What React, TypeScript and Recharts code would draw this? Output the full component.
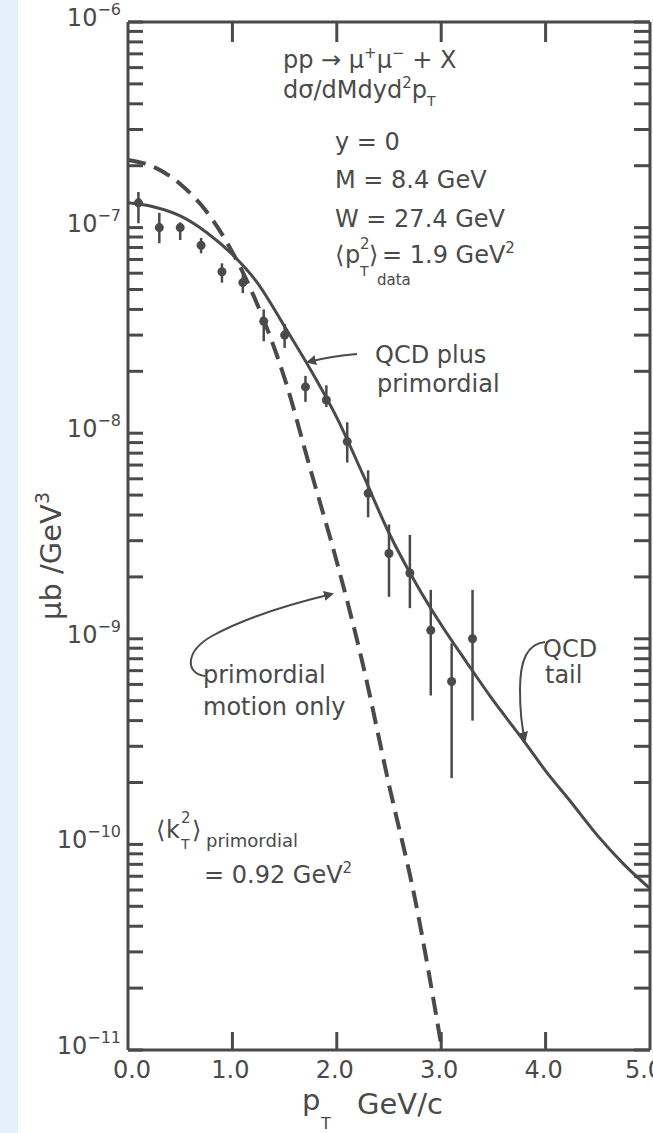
import React from "react";
import { ComposedChart, Line, Scatter, ErrorBar, XAxis, YAxis } from "recharts";

// measured points (pT in GeV/c, cross section in μb/GeV^3)
const dataPt = [0.1, 0.3, 0.5, 0.7, 0.9, 1.1, 1.3, 1.5, 1.7, 1.9, 2.1, 2.3, 2.5, 2.7, 2.9, 3.1, 3.3];
const dataVal = [1.32e-7, 1.0e-7, 1.0e-7, 8.2e-8, 6.1e-8, 5.4e-8, 3.5e-8, 3.0e-8, 1.68e-8, 1.45e-8, 9.1e-9, 5.1e-9, 2.6e-9, 2.09e-9, 1.1e-9, 6.2e-10, 1.0e-9];
const dataLow = [1.05e-7, 8.4e-8, 8.7e-8, 7.5e-8, 5.4e-8, 4.8e-8, 2.8e-8, 2.6e-8, 1.42e-8, 1.34e-8, 7.2e-9, 3.9e-9, 1.6e-9, 1.41e-9, 5.3e-10, 2.1e-10, 4.0e-10];
const dataHigh = [1.49e-7, 1.18e-7, 1.06e-7, 8.9e-8, 6.7e-8, 5.9e-8, 4.0e-8, 3.4e-8, 1.9e-8, 1.71e-8, 1.13e-8, 6.6e-9, 3.6e-9, 3.2e-9, 1.73e-9, 9.5e-10, 1.73e-9];

// QCD plus primordial (solid)
const qcdPt = [0, 0.25, 0.5, 0.75, 1.0, 1.25, 1.5, 1.75, 2.0, 2.25, 2.5, 2.75, 3.0, 3.25, 3.5, 3.75, 4.0, 4.25, 4.5, 4.75, 5.0];
const qcdVal = [1.32e-7, 1.26e-7, 1.14e-7, 9.5e-8, 7.4e-8, 5.3e-8, 3.3e-8, 2.03e-8, 1.19e-8, 6.3e-9, 3.27e-9, 1.89e-9, 1.17e-9, 7.6e-10, 5.0e-10, 3.4e-10, 2.28e-10, 1.59e-10, 1.1e-10, 8.0e-11, 6.1e-11];

// primordial motion only (dashed)
const primPt = [0, 0.25, 0.5, 0.75, 1.0, 1.25, 1.5, 1.75, 2.0, 2.25, 2.5, 2.75, 3.0];
const primVal = [2.13e-7, 1.97e-7, 1.63e-7, 1.2e-7, 7.6e-8, 4.1e-8, 1.85e-8, 6.6e-9, 2.37e-9, 7.5e-10, 1.95e-10, 5.4e-11, 1.06e-11];

const xTicks = [0, 1, 2, 3, 4, 5];
const xTickLabels = ["0.0", "1.0", "2.0", "3.0", "4.0", "5.0"];
const yDecades = [-11, -10, -9, -8, -7, -6];
const yMinor = [2, 3, 4, 5, 6, 7, 8, 9];

const yTicks: number[] = [];
yDecades.forEach((e) => {
  yTicks.push(Math.pow(10, e));
  if (e < -6) yMinor.forEach((m) => yTicks.push(m * Math.pow(10, e)));
});

const points = dataPt.map((x, i) => ({ x, y: dataVal[i], err: [dataVal[i] - dataLow[i], dataHigh[i] - dataVal[i]] }));
const qcdLine = qcdPt.map((x, i) => ({ x, y: qcdVal[i] }));
const primLine = primPt.map((x, i) => ({ x, y: primVal[i] }));

const INK = "#4a4a4a";
const FONT = "'DejaVu Sans', sans-serif";

function BottomTick({ x, y, payload }: any) {
  const v = payload.value;
  // the first and last labels sit a little inward, as in the scan
  const shift = v === 0 ? 4 : v === 5 ? -6 : -2;
  return (
    <g>
      {v > 0 && v < 5 && <line x1={x} y1={y} x2={x} y2={y - 18} stroke={INK} strokeWidth={3} />}
      <text x={x + shift} y={y + 28} textAnchor="middle" fontSize={24} fontFamily={FONT} fill={INK}>
        {xTickLabels[xTicks.indexOf(v)]}
      </text>
    </g>
  );
}

function TopTick({ x, y, payload }: any) {
  const v = payload.value;
  if (v <= 0 || v >= 5) return <g />;
  return <line x1={x} y1={y} x2={x} y2={y + 20} stroke={INK} strokeWidth={3} />;
}

function LeftTick({ x, y, payload }: any) {
  const v = payload.value;
  const e = Math.round(Math.log10(v));
  const major = Math.abs(v / Math.pow(10, e) - 1) < 1e-6;
  return (
    <g>
      <line x1={x} y1={y} x2={x + 15} y2={y} stroke={INK} strokeWidth={3} />
      {major && (
        <text x={x - 7} y={y + 4} textAnchor="end" fontFamily={FONT} fill={INK} fontSize={24}>
          10<tspan fontSize={16} dy={-11}>{"−" + String(-e)}</tspan>
        </text>
      )}
    </g>
  );
}

function RightTick({ x, y }: any) {
  return <line x1={x} y1={y} x2={x - 16} y2={y} stroke={INK} strokeWidth={3} />;
}

function Dot({ cx, cy }: any) {
  return <circle cx={cx} cy={cy} r={4.5} fill={INK} />;
}

export default function App() {
  const t = { fontFamily: FONT, fill: INK } as const;
  return (
    <div style={{ position: "absolute", left: 0, top: 0, width: 653, height: 1133, background: "#fff", overflow: "hidden" }}>
      <div style={{ position: "absolute", left: 0, top: 0, width: 18, height: 1133, background: "#e4f1fc" }} />
      <div style={{ position: "absolute", left: 0, top: 0 }}>
        <ComposedChart width={653} height={1133} margin={{ top: 21, right: 2, bottom: 0, left: 28 }}>
          <XAxis
            xAxisId={0}
            dataKey="x"
            type="number"
            domain={[0, 5]}
            ticks={xTicks}
            interval={0}
            allowDataOverflow
            height={83}
            tickSize={0}
            tickMargin={0}
            tickLine={false}
            axisLine={{ stroke: INK, strokeWidth: 3 }}
            tick={(p: any) => <BottomTick {...p} />}
          />
          <XAxis
            xAxisId="top"
            orientation="top"
            dataKey="x"
            type="number"
            domain={[0, 5]}
            ticks={xTicks}
            interval={0}
            allowDataOverflow
            height={1}
            tickSize={0}
            tickMargin={0}
            tickLine={false}
            axisLine={{ stroke: INK, strokeWidth: 3 }}
            tick={(p: any) => <TopTick {...p} />}
          />
          <YAxis
            yAxisId={0}
            dataKey="y"
            type="number"
            scale="log"
            domain={[1e-11, 1e-6]}
            ticks={yTicks}
            interval={0}
            allowDataOverflow
            width={100}
            tickSize={0}
            tickMargin={0}
            tickLine={false}
            axisLine={{ stroke: INK, strokeWidth: 3 }}
            tick={(p: any) => <LeftTick {...p} />}
          />
          <YAxis
            yAxisId="right"
            orientation="right"
            type="number"
            scale="log"
            domain={[1e-11, 1e-6]}
            ticks={yTicks}
            interval={0}
            allowDataOverflow
            width={1}
            tickSize={0}
            tickMargin={0}
            tickLine={false}
            axisLine={{ stroke: INK, strokeWidth: 3 }}
            tick={(p: any) => <RightTick {...p} />}
          />
          <Line
            data={primLine}
            dataKey="y"
            type="monotone"
            stroke={INK}
            strokeWidth={4}
            strokeDasharray="18 9"
            dot={false}
            isAnimationActive={false}
          />
          <Line
            data={qcdLine}
            dataKey="y"
            type="monotone"
            stroke={INK}
            strokeWidth={3}
            dot={false}
            isAnimationActive={false}
          />
          <Scatter data={points} dataKey="y" shape={(p: any) => <Dot {...p} />} isAnimationActive={false}>
            <ErrorBar dataKey="err" direction="y" width={0} stroke={INK} strokeWidth={2.5} />
          </Scatter>
        </ComposedChart>
      </div>
      <svg width={653} height={1133} style={{ position: "absolute", left: 0, top: 0, pointerEvents: "none" }}>
        <defs>
          <marker id="ah" viewBox="0 0 10 10" refX="8" refY="5" markerWidth="5" markerHeight="5" orient="auto">
            <path d="M0,0 L10,5 L0,10 z" fill={INK} />
          </marker>
        </defs>
        <text x={283} y={68} fontSize={24} {...t}>
          pp → μ<tspan fontSize={15} dy={-10}>+</tspan>
          <tspan dy={10}>μ</tspan>
          <tspan fontSize={15} dy={-10}>−</tspan>
          <tspan dy={10}> + X</tspan>
        </text>
        <text x={283} y={98} fontSize={24} {...t}>
          dσ/dMdyd<tspan fontSize={15} dy={-10}>2</tspan>
          <tspan dy={10}>p</tspan>
          <tspan fontSize={14} dy={8}>T</tspan>
        </text>
        <text x={335} y={150} fontSize={24} {...t}>y = 0</text>
        <text x={335} y={188} fontSize={24} {...t}>M = 8.4 GeV</text>
        <text x={335} y={227} fontSize={24} {...t}>W = 27.4 GeV</text>
        <text x={335} y={263} fontSize={24} {...t}>⟨</text>
        <text x={345} y={263} fontSize={24} {...t}>p</text>
        <text x={360} y={249} fontSize={15} {...t}>2</text>
        <text x={360} y={276} fontSize={14} {...t}>T</text>
        <text x={369} y={263} fontSize={24} {...t}>⟩</text>
        <text x={377} y={285} fontSize={15} {...t}>data</text>
        <text x={382} y={263} fontSize={24} {...t}>
          = 1.9 GeV<tspan fontSize={15} dy={-10}>2</tspan>
        </text>

        <text x={375} y={363} fontSize={24} {...t}>QCD plus</text>
        <text x={377} y={392} fontSize={24} {...t}>primordial</text>
        <path d="M357,354 Q332,356 308,362" fill="none" stroke={INK} strokeWidth={2} markerEnd="url(#ah)" />

        <text x={203} y={683} fontSize={24} {...t}>primordial</text>
        <text x={203} y={715} fontSize={24} {...t}>motion only</text>
        <path d="M205,676 C186,674 184,652 212,636 C245,618 290,604 332,594" fill="none" stroke={INK} strokeWidth={2} markerEnd="url(#ah)" />

        <text x={543} y={657} fontSize={24} {...t}>QCD</text>
        <text x={545} y={683} fontSize={24} {...t}>tail</text>
        <path d="M545,642 C527,644 520,660 520,690 C520,712 522,728 525,740" fill="none" stroke={INK} strokeWidth={2} markerEnd="url(#ah)" />

        <text x={156} y={838} fontSize={24} {...t}>⟨</text>
        <text x={166} y={838} fontSize={24} {...t}>k</text>
        <text x={181} y={823} fontSize={15} {...t}>2</text>
        <text x={181} y={849} fontSize={14} {...t}>T</text>
        <text x={192} y={838} fontSize={24} {...t}>⟩</text>
        <text x={206} y={847} fontSize={18} {...t}>primordial</text>
        <text x={204} y={883} fontSize={24} {...t}>
          = 0.92 GeV<tspan fontSize={15} dy={-10}>2</tspan>
        </text>

        <text transform="translate(61,556) rotate(-90)" textAnchor="middle" fontSize={29} {...t}>
          μb /GeV<tspan fontSize={19} dy={-12}>3</tspan>
        </text>
        <text x={302} y={1110} fontSize={29} {...t}>p</text>
        <text x={321} y={1129} fontSize={16} {...t}>T</text>
        <text x={357} y={1114} fontSize={29} {...t}>GeV/c</text>
      </svg>
    </div>
  );
}
